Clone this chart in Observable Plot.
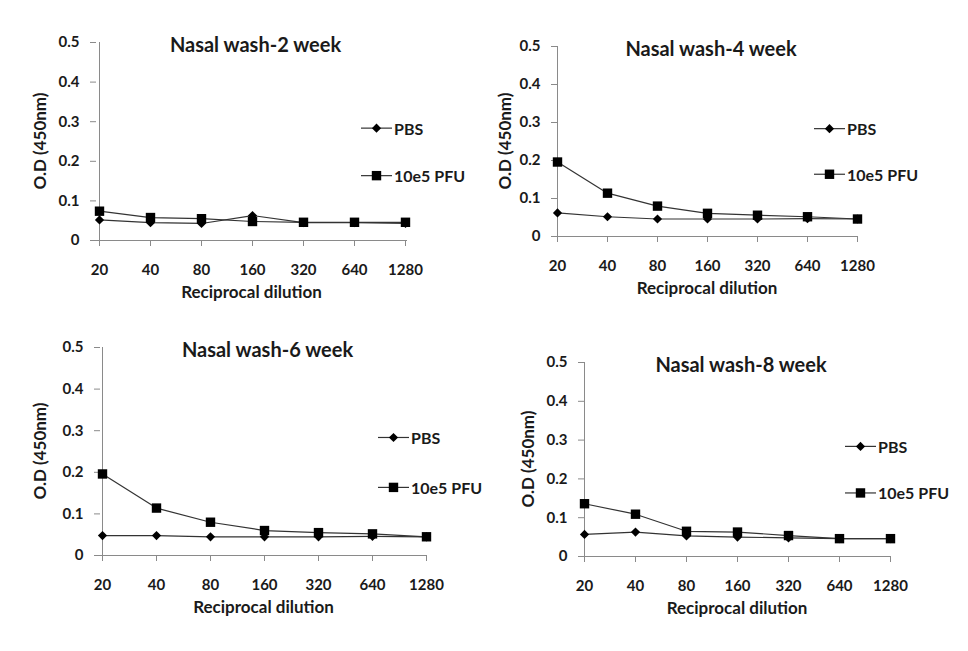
<!DOCTYPE html>
<html><head><meta charset="utf-8">
<script src="https://cdn.jsdelivr.net/npm/d3@7"></script>
<script src="https://cdn.jsdelivr.net/npm/@observablehq/plot@0.6"></script>
<style>
body{margin:0;background:#fff;}
#root{position:relative;width:968px;height:651px;overflow:hidden;background:#fff;}
.panel{position:absolute;}
</style></head><body><div id="root"></div>
<script>
// ---- data ----
const dilutions = ["20","40","80","160","320","640","1280"];
const yTicks = [0, 0.1, 0.2, 0.3, 0.4, 0.5];
const seriesNames = ["PBS", "10e5 PFU"];
const titles = ["Nasal wash-2 week", "Nasal wash-4 week", "Nasal wash-6 week", "Nasal wash-8 week"];
const xTitle = "Reciprocal dilution";
const yTitle = "O.D (450nm)";
const pbsWeek2 = [0.052, 0.045, 0.043, 0.063, 0.045, 0.045, 0.043];
const pfuWeek2 = [0.074, 0.058, 0.055, 0.048, 0.046, 0.046, 0.046];
const pbsWeek4 = [0.062, 0.052, 0.046, 0.046, 0.046, 0.047, 0.046];
const pfuWeek4 = [0.196, 0.114, 0.080, 0.061, 0.056, 0.052, 0.046];
const pbsWeek6 = [0.048, 0.048, 0.045, 0.045, 0.045, 0.046, 0.045];
const pfuWeek6 = [0.196, 0.114, 0.080, 0.060, 0.055, 0.052, 0.045];
const pbsWeek8 = [0.057, 0.063, 0.053, 0.050, 0.048, 0.046, 0.046];
const pfuWeek8 = [0.136, 0.109, 0.065, 0.063, 0.054, 0.046, 0.046];

const pbsSets = [pbsWeek2, pbsWeek4, pbsWeek6, pbsWeek8];
const pfuSets = [pfuWeek2, pfuWeek4, pfuWeek6, pfuWeek8];

// ---- layout ----
const layouts = [
  {left:0,   top:0,   w:484, h:320, ml:96,  mr:77,  mt:42, mb:80, yl:-57, lg:-46},
  {left:484, top:0,   w:484, h:320, ml:73,  mr:111, mt:46, mb:84, yl:-53, lg:-43},
  {left:0,   top:320, w:484, h:331, ml:100, mr:57,  mt:27, mb:96, yl:-61, lg:-49},
  {left:484, top:320, w:484, h:331, ml:100, mr:78,  mt:42, mb:95, yl:-57, lg:-45}
];

const FONT = "Lato, 'Open Sans', sans-serif";
const TEXT = "#1a1a1a";
const AXIS = "#8a8a8a";
const LINE = "#333";

const diamond = {
  draw(ctx, size) {
    const s = Math.sqrt(size / 2);
    ctx.moveTo(0, -s); ctx.lineTo(s, 0); ctx.lineTo(0, s); ctx.lineTo(-s, 0); ctx.closePath();
  }
};
const rDiamond = 4.6 * Math.sqrt(2 / Math.PI);
const rSquare = 9.4 / Math.sqrt(Math.PI);

function buildPanel(i) {
  const L = layouts[i];
  const rows = [];
  dilutions.forEach((d, j) => {
    rows.push({dil: d, od: pbsSets[i][j], s: seriesNames[0]});
    rows.push({dil: d, od: pfuSets[i][j], s: seriesNames[1]});
  });
  const chart = Plot.plot({
    width: L.w, height: L.h,
    marginLeft: L.ml, marginRight: L.mr, marginTop: L.mt, marginBottom: L.mb,
    style: {fontFamily: FONT, fontWeight: "bold", fontSize: "15px", color: TEXT, background: "transparent", overflow: "visible"},
    x: {type: "point", domain: dilutions, padding: 0, tickSize: 6, tickPadding: 18, label: null},
    y: {domain: [0, 0.5], ticks: yTicks, tickSize: 6, tickPadding: 11, label: null,
        tickFormat: d => d === 0 ? "0" : d3.format(".1f")(d)},
    marks: [
      Plot.ruleY([0], {stroke: AXIS, strokeWidth: 1}),
      Plot.ruleX([dilutions[0]], {stroke: AXIS, strokeWidth: 1}),
      Plot.line(rows, {x: "dil", y: "od", z: "s", stroke: LINE, strokeWidth: 1.2}),
      Plot.dot(rows.filter(r => r.s === seriesNames[0]), {x: "dil", y: "od", symbol: diamond, r: rDiamond, fill: "#000", stroke: "none"}),
      Plot.dot(rows.filter(r => r.s === seriesNames[1]), {x: "dil", y: "od", symbol: "square", r: rSquare, fill: "#000", stroke: "none"})
    ]
  });
  const svg = d3.select(chart);
  svg.selectAll("g[aria-label^='x-axis'] line, g[aria-label^='y-axis'] line, g[aria-label$='tick'] path").attr("stroke", AXIS);

  // overlay: title, axis titles, legend
  const x0 = L.ml, x1 = L.w - L.mr, y0 = L.mt, y1 = L.h - L.mb;
  const ph = y1 - y0;
  const g = svg.append("g").attr("font-family", FONT).attr("font-weight", "bold").attr("fill", TEXT);
  g.append("text").attr("x", (x0 + x1) / 2 + 4).attr("y", y0 + 2)
    .attr("text-anchor", "middle").attr("dominant-baseline", "central").attr("font-size", 20).text(titles[i]);
  g.append("text").attr("x", (x0 + x1) / 2).attr("y", y1 + 51)
    .attr("text-anchor", "middle").attr("dominant-baseline", "central").attr("font-size", 17).text(xTitle);
  g.append("text").attr("transform", `translate(${x0 + L.yl},${(y0 + y1) / 2}) rotate(-90)`)
    .attr("text-anchor", "middle").attr("dominant-baseline", "central").attr("font-size", 17).text(yTitle);
  const fr = [0.435, 0.675];
  const syms = [d3.symbol(diamond, 2 * 4.6 * 4.6), d3.symbol(d3.symbolSquare, 9.4 * 9.4)];
  seriesNames.forEach((name, k) => {
    const ly = y0 + ph * fr[k];
    const lx = x1 + L.lg;
    g.append("line").attr("x1", lx).attr("x2", lx + 31).attr("y1", ly).attr("y2", ly)
      .attr("stroke", LINE).attr("stroke-width", 1.2);
    g.append("path").attr("d", syms[k]()).attr("transform", `translate(${lx + 15.5},${ly})`).attr("fill", "#000");
    g.append("text").attr("x", lx + 33).attr("y", ly).attr("dominant-baseline", "central")
      .attr("text-anchor", "start").attr("font-size", 16).text(name);
  });

  const wrap = document.createElement("div");
  wrap.className = "panel";
  wrap.style.left = L.left + "px";
  wrap.style.top = L.top + "px";
  wrap.appendChild(chart);
  document.getElementById("root").appendChild(wrap);
}
[0, 1, 2, 3].forEach(buildPanel);
</script></body></html>
